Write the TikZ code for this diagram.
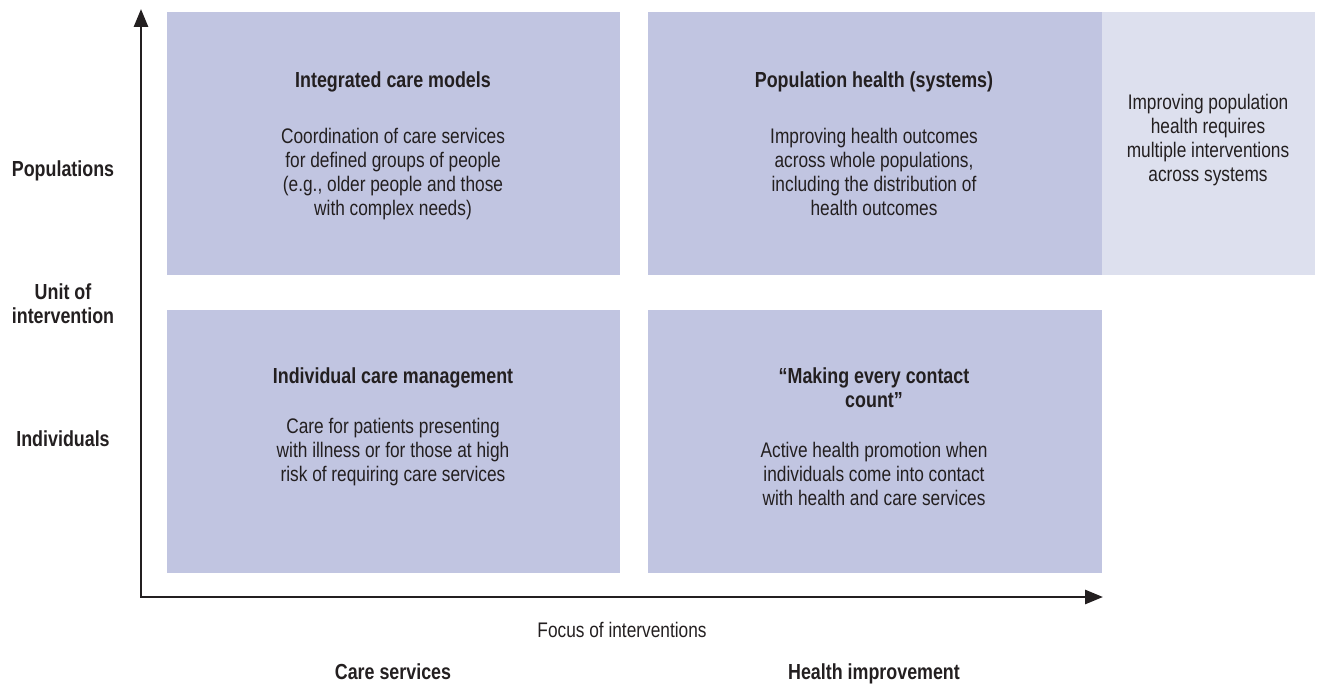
\documentclass[tikz,border=0pt]{standalone}
\usepackage{fontspec}
\setmainfont[FakeStretch=0.82]{Liberation Sans}
\usepackage{xcolor}
\usetikzlibrary{arrows.meta,positioning}
\definecolor{quadfill}{RGB}{193,197,225}
\definecolor{quadpale}{RGB}{221,224,238}
\definecolor{ink}{RGB}{35,31,32}
\tikzset{
  quad/.style={
    rectangle, fill=quadfill, draw=none, inner sep=0pt, outer sep=0pt,
    minimum width=9.06cm, minimum height=5.26cm, anchor=north west
  },
  head/.style={
    font=\fontsize{12.4}{13.6}\selectfont\bfseries, text=ink, align=center,
    inner sep=0pt, anchor=base
  },
  body/.style={
    font=\fontsize{12}{13.6}\selectfont, text=ink, align=center,
    inner sep=0pt, anchor=base
  },
  axis/.style={
    {Triangle[length=0.36cm,width=0.28cm]}-{Triangle[length=0.36cm,width=0.28cm]},
    line width=1.6pt, draw=ink
  },
}

\begin{document}
\begin{tikzpicture}[x=0.02cm, y=-0.02cm]
  \useasboundingbox (0,0) rectangle (1317,686);

  % Quadrants
  \node[quad] (integ) at (167,12) {};
  \node[quad, minimum width=9.08cm] (pophealth) at (648,12) {};
  \node[quad, fill=quadpale, minimum width=4.26cm] (systems) at (1102,12) {};
  \node[quad] (indiv) at (167,310) {};
  \node[quad, minimum width=9.08cm] (contact) at (648,310) {};

  % Top left (multi-line nodes sit on their last baseline)
  \node[head] (integ-head) at (393,88) {Integrated care models};
  \node[body] (integ-text) at (393,215)
    {Coordination of care services\\for defined groups of people\\(e.g., older people and those\\with complex needs)};

  % Top right
  \node[head] (pop-head) at (874,88) {Population health (systems)};
  \node[body] (pop-text) at (874,215)
    {Improving health outcomes\\across whole populations,\\including the distribution of\\health outcomes};
  \node[body] (sys-text) at (1208,181)
    {Improving population\\health requires\\multiple interventions\\across systems};

  % Bottom left
  \node[head] (indiv-head) at (393,383) {Individual care management};
  \node[body] (indiv-text) at (393,481)
    {Care for patients presenting\\with illness or for those at high\\risk of requiring care services};

  % Bottom right
  \node[head] (contact-head) at (874,407) {``Making every contact\\count''};
  \node[body] (contact-text) at (874,505)
    {Active health promotion when\\individuals come into contact\\with health and care services};

  % Axes
  \coordinate (origin) at (141,597);
  \coordinate (ytip) at (141,9);
  \coordinate (xtip) at (1103,597);
  \draw[axis] (ytip) -- (origin) -- (xtip);

  % Axis labels
  \node[head] (populations) at (63,176) {Populations};
  \node[head] (unit) at (63,323) {Unit of\\intervention};
  \node[head] (individuals) at (63,446) {Individuals};
  \node[body] (focus) at (622,637) {Focus of interventions};
  \node[head] (care) at (393,679) {Care services};
  \node[head] (improve) at (874,679) {Health improvement};
\end{tikzpicture}
\end{document}
